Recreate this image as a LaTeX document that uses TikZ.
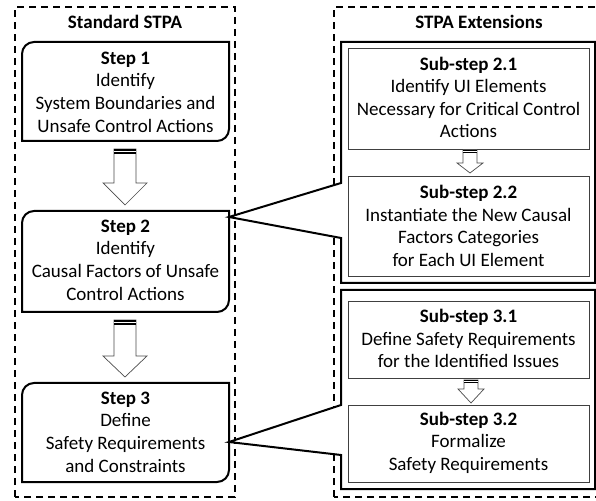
\documentclass[tikz,border=0pt]{standalone}
\usepackage{fontspec}
\setmainfont{Carlito}
\begin{document}
\begin{tikzpicture}[x=1pt,y=1pt,
  txt/.style={align=center,inner sep=0pt,font=\fontsize{19}{22.6}\selectfont},
  ttl/.style={inner sep=0pt,font=\fontsize{19}{22.6}\selectfont\bfseries},
  dashbox/.style={line width=2.2pt,dash pattern=on 7pt off 5pt},
  stepbox/.style={line width=2pt},
  callbox/.style={line width=2pt,line join=miter,fill=white},
  subbox/.style={line width=0.9pt,draw=black!75},
  arrowline/.style={line width=0.7pt,draw=black!70,fill=white}]
\useasboundingbox (0,0) rectangle (596,500);
\clip (0,0) rectangle (596,500);
\fill[white] (0,0) rectangle (596,500);

\newcommand\blockarrow[7]{% x, ytop, yhead, ytip, shaft half, head half, stripe
  \draw[arrowline] (#1-#5,#2) -- (#1-#5,#3) -- (#1-#6,#3) -- (#1,#4) -- (#1+#6,#3) -- (#1+#5,#3) -- (#1+#5,#2) -- cycle;
  \fill[black] (#1-#5,#2) rectangle (#1+#5,#2-#7);
  \draw[white,line width=0.6pt] (#1-#5,#2-#7/2) -- (#1+#5,#2-#7/2);
}

% outer dashed boxes
\draw[dashbox] (15,3) rectangle (235,493);
\draw[dashbox] (334,3) rectangle (620,493);
\node[ttl] (t1) at (125,478) {Standard STPA};
\node[ttl] (t2) at (479,478) {STPA Extensions};

% step boxes
\draw[stepbox] (22,359) -- (22,446) arc(180:90:12) -- (229,458) -- (229,371) arc(0:-90:12) -- cycle;
\draw[stepbox] (22,188) -- (22,277) arc(180:90:12) -- (229,289) -- (229,200) arc(0:-90:12) -- cycle;
\draw[stepbox] (22,18) -- (22,105) arc(180:90:12) -- (229,117) -- (229,30) arc(0:-90:12) -- cycle;
\coordinate (s2r) at (229,283);
\coordinate (s3r) at (229,58);

\node[txt] (s1) at (125.5,408) {\textbf{Step 1}\\Identify\\System Boundaries and\\Unsafe Control Actions};
\node[txt] (s2) at (125.5,240) {\textbf{Step 2}\\Identify\\Causal Factors of Unsafe\\Control Actions};
\node[txt] (s3) at (125.5,68) {\textbf{Step 3}\\Define\\Safety Requirements\\and Constraints};

% big arrows
\blockarrow{125}{351}{317}{295}{11}{22}{5}
\blockarrow{125}{180}{144}{123}{11}{22}{5}

% callout boxes
\draw[callbox] (341,317) -- (341,458) -- (595,458) -- (595,217) -- (341,217) -- (341,262) -- (s2r) -- cycle;
\draw[callbox] (341,95) -- (341,210) -- (595,210) -- (595,11) -- (341,11) -- (341,45) -- (s3r) -- cycle;

% sub-step boxes
\draw[subbox] (348,351) rectangle (589,452);
\draw[subbox] (348,224) rectangle (589,324);
\draw[subbox] (348,122) rectangle (589,199);
\draw[subbox] (348,18) rectangle (589,95);

\node[txt] (a1) at (468.5,402.5) {\textbf{Sub-step 2.1}\\Identify UI Elements\\Necessary for Critical Control\\Actions};
\node[txt] (a2) at (468.5,274) {\textbf{Sub-step 2.2}\\Instantiate the New Causal\\Factors Categories\\for Each UI Element};
\node[txt] (b1) at (468.5,161.5) {\textbf{Sub-step 3.1}\\Define Safety Requirements\\for the Identified Issues};
\node[txt] (b2) at (468.5,57.5) {\textbf{Sub-step 3.2}\\Formalize\\Safety Requirements};

% small arrows
\blockarrow{470}{350}{337}{327}{7}{13}{3}
\blockarrow{471}{120}{111}{97}{7}{13}{3}
\end{tikzpicture}
\end{document}
